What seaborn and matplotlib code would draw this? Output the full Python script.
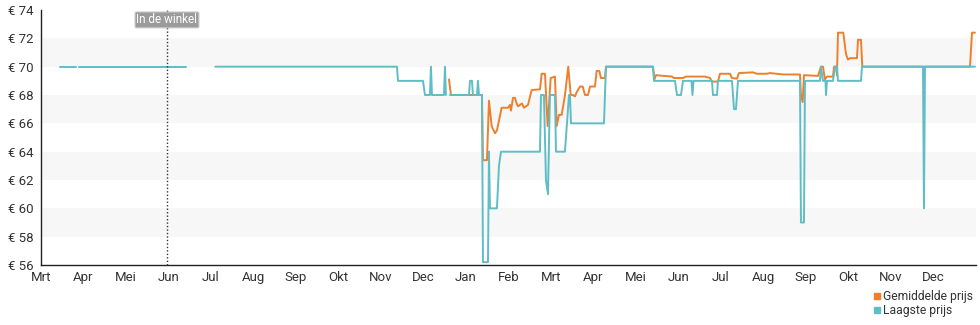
import numpy as np
import pandas as pd
import matplotlib
matplotlib.use("Agg")
import matplotlib.pyplot as plt
import seaborn as sns
from matplotlib.lines import Line2D

# ---------------- data ----------------
month_labels = ["Mrt", "Apr", "Mei", "Jun", "Jul", "Aug", "Sep", "Okt", "Nov", "Dec", "Jan",
                "Feb", "Mrt", "Apr", "Mei", "Jun", "Jul", "Aug", "Sep", "Okt", "Nov", "Dec"]
price_ticks = [56, 58, 60, 62, 64, 66, 68, 70, 72, 74]

# time in months since the first "Mrt" tick; NaN marks a gap in the series
low_t = [0.447, 0.605, np.nan,
         0.635, 0.824, np.nan,
         0.887, 3.412, np.nan,
         4.101, 8.376, 8.400, 8.988, 9.035, 9.153, 9.176, 9.200, 9.482, 9.506, 9.529, np.nan,
         9.624, 10.071, 10.094, 10.141, 10.165, 10.259, 10.282, 10.306, 10.376, 10.400,
         10.518, 10.541, 10.565, 10.729, 10.776, 10.824, 11.741, 11.765, 11.835, 11.882,
         11.929, 11.976, 12.094, 12.118, 12.329, 12.376, 12.424, 12.447, 12.471, 13.247,
         13.294, 14.400, 14.424, 14.918, 14.965, 15.059, 15.106, 15.306, 15.329, 15.353,
         15.788, 15.812, 15.906, 15.929, 16.259, 16.306, 16.353, 16.400, 17.859, 17.882,
         17.953, 17.976, 18.329, 18.353, 18.400, 18.459, 18.471, 18.494, 18.635, 18.682,
         18.729, 18.753, 19.294, 19.318, 20.753, 20.776, 20.800, 21.976]
low_price = [70, 70, np.nan,
             70, 70, np.nan,
             70, 70, np.nan,
             70, 70, 69, 69, 68, 68, 70, 68, 68, 70, 68, np.nan,
             68, 68, 69, 69, 68, 68, 69, 68, 68, 56.2,
             56.2, 64, 60, 60, 63, 64, 64, 68, 68, 62,
             61, 68, 68, 64, 64, 66, 68, 68, 66, 66,
             70, 70, 69, 69, 68, 68, 69, 69, 68, 69,
             69, 68, 68, 69, 69, 67, 67, 69, 69, 59,
             59, 69, 69, 70, 69, 69, 68, 69, 69, 70,
             70, 69, 69, 70, 70, 60, 70, 70]

avg_t = [9.600, 9.647, 10.376, 10.400, 10.494, 10.541, 10.605, 10.682, 10.729, 10.840,
         10.988, 11.035, 11.059, 11.106, 11.153, 11.193, 11.224, 11.318, 11.365, 11.459,
         11.546, 11.741, 11.781, 11.859, 11.922, 11.993, 12.094, 12.134, 12.188, 12.252,
         12.329, 12.407, 12.464, 12.518, 12.565, 12.605, 12.682, 12.746, 12.800, 12.871,
         12.918, 13.035, 13.075, 13.136, 13.176, 13.271, 13.294, 14.400, 14.435, 14.471,
         14.847, 14.894, 15.106, 15.176, 15.624, 15.741, 15.788, 15.929, 15.976, 16.212,
         16.259, 16.376, 16.424, 16.753, 16.847, 17.082, 17.153, 17.459, 17.788, 17.859,
         17.882, 17.922, 17.953, 18.282, 18.353, 18.400, 18.447, 18.494, 18.635, 18.659,
         18.706, 18.729, 18.753, 18.878, 18.941, 18.988, 19.035, 19.200, 19.224, 19.294,
         19.325, 21.859, 21.906, 21.976]
avg_price = [69.1, 68, 68, 63.4, 63.4, 67.6, 65.8, 65.3, 65.5, 67.1,
             67.1, 67.3, 66.9, 67.8, 67.8, 67.4, 67.2, 67.4, 67.1, 67.3,
             68.35, 68.4, 69.5, 69.5, 65.8, 69.2, 69.3, 65.8, 66.6, 66.6,
             68.0, 70.0, 68.0, 68.0, 67.9, 68.2, 68.6, 68.6, 68.0, 68.0,
             68.6, 68.6, 69.7, 69.7, 69.2, 69.2, 70, 70, 69.1, 69.4,
             69.3, 69.2, 69.2, 69.3, 69.3, 69.2, 68.95, 68.95, 69.5, 69.5,
             69.2, 69.15, 69.55, 69.6, 69.5, 69.5, 69.55, 69.45, 69.45, 69.45,
             68.0, 67.5, 69.4, 69.35, 70, 70, 69.1, 69.3, 69.3, 70,
             70, 69.4, 72.4, 72.4, 70.9, 70.5, 70.6, 70.6, 71.9, 71.9,
             70, 70, 72.4, 72.4]

store_t = 2.965
store_label = "In de winkel"
series_names = ["Gemiddelde prijs", "Laagste prijs"]
colors = {"Gemiddelde prijs": "#ee7f2d", "Laagste prijs": "#5fbdc6"}


def to_frame(t, p, name):
    df = pd.DataFrame({"t": t, "price": p})
    df["seg"] = df["price"].isna().cumsum()
    df = df.dropna().reset_index(drop=True)
    df["serie"] = name
    return df


avg_df = to_frame(avg_t, avg_price, series_names[0])
low_df = to_frame(low_t, low_price, series_names[1])

# ---------------- plot ----------------
sns.set_theme(style="white")
plt.rcParams["font.family"] = ["Roboto", "DejaVu Sans"]

fig = plt.figure(figsize=(9.8, 3.25), dpi=100)
ax = fig.add_axes([0.0418, 0.1846, 0.9541, 0.7846])

for lo in (58, 62, 66, 70):
    ax.axhspan(lo, lo + 2, color="#f7f7f7", zorder=0, lw=0)

sns.lineplot(data=avg_df, x="t", y="price", units="seg", estimator=None,
             color=colors[series_names[0]], lw=1.4, ax=ax, legend=False, zorder=3)
sns.lineplot(data=low_df, x="t", y="price", units="seg", estimator=None,
             color=colors[series_names[1]], lw=1.4, ax=ax, legend=False, zorder=4)

ax.axvline(store_t, color="#333333", ls=(0, (1, 1.5)), lw=1.0, zorder=5)
ax.text(store_t, 73.3, store_label, ha="center", va="center", fontsize=8.5,
        color="white", zorder=6,
        bbox=dict(boxstyle="round,pad=0.12", fc="#9b9b9b", ec="#c8c8c8", lw=0.8))

ax.set_xlim(0, 22)
ax.set_ylim(56, 74)
ax.set_xticks(range(len(month_labels)))
ax.set_xticklabels(month_labels)
ax.set_yticks(price_ticks)
ax.set_yticklabels([f"€ {v}" for v in price_ticks])
ax.set_xlabel("")
ax.set_ylabel("")

for side in ("top", "right"):
    ax.spines[side].set_visible(False)
for side in ("left", "bottom"):
    ax.spines[side].set_color("#222222")
    ax.spines[side].set_linewidth(1.0)

ax.tick_params(axis="both", direction="out", length=4, width=1, color="#222222",
               labelcolor="#333333", labelsize=9.5, pad=1.5)
ax.tick_params(axis="x", pad=0.5)

handles = [Line2D([], [], marker="s", ls="", color=colors[n], markersize=5, label=n)
           for n in series_names]
fig.legend(handles=handles, loc="lower right", bbox_to_anchor=(0.998, 0.01),
           frameon=False, fontsize=8.7, handlelength=0.6, handletextpad=0.2,
           labelspacing=0.05, borderaxespad=0, labelcolor="#333333")

fig.savefig("out.png", dpi=100)
